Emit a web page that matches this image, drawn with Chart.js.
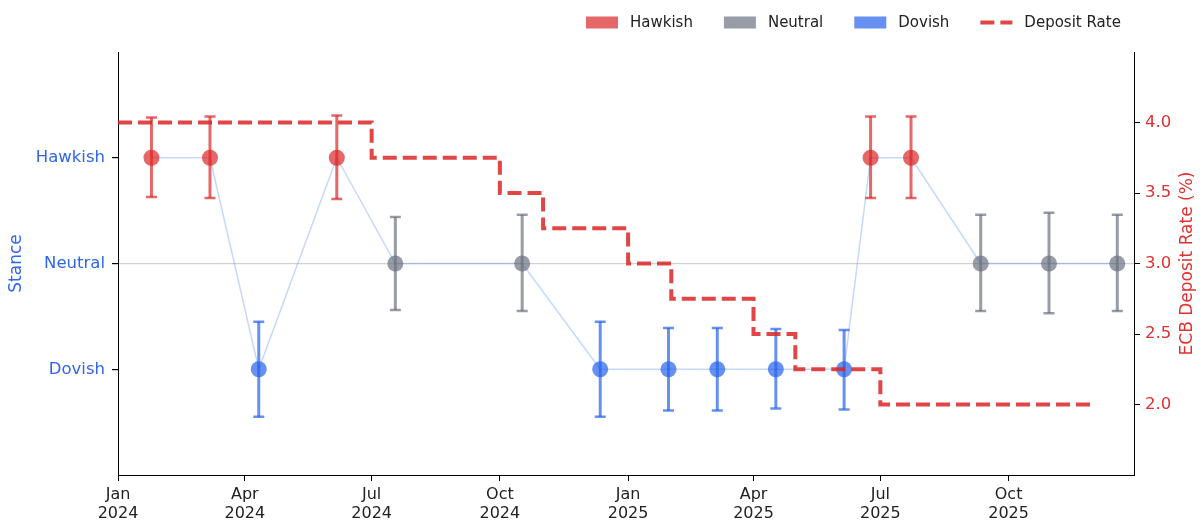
<!DOCTYPE html>
<html>
<head>
<meta charset="utf-8">
<script src="https://cdn.jsdelivr.net/npm/chart.js@4.4.1/dist/chart.umd.min.js"></script>
<style>
  html, body { margin: 0; padding: 0; background: #fff; }
  #wrap { width: 1201px; height: 521px; }
</style>
</head>
<body>
<div id="wrap"><canvas id="chart" width="1201" height="521"></canvas></div>
<script>
// ---------------------------------------------------------------
// ECB stance vs deposit rate
// ---------------------------------------------------------------

// 1. DATA
const meetingDates = ['2024-01-25', '2024-03-07', '2024-04-11', '2024-06-06', '2024-07-18', '2024-10-17',
  '2024-12-12', '2025-01-30', '2025-03-06', '2025-04-17', '2025-06-05', '2025-06-24', '2025-07-23',
  '2025-09-11', '2025-10-30', '2025-12-18'];
const meetingStance = ['Hawkish', 'Hawkish', 'Dovish', 'Hawkish', 'Neutral', 'Neutral',
  'Dovish', 'Dovish', 'Dovish', 'Dovish', 'Dovish', 'Hawkish', 'Hawkish',
  'Neutral', 'Neutral', 'Neutral'];
const errHigh = [1.38, 1.39, -0.55, 1.40, 0.44, 0.46, -0.55, -0.61, -0.61, -0.62, -0.63, 1.39, 1.39, 0.46, 0.48, 0.46];
const errLow  = [0.63, 0.62, -1.45, 0.61, -0.44, -0.45, -1.45, -1.39, -1.39, -1.37, -1.38, 0.62, 0.62, -0.45, -0.47, -0.45];

const rateDates  = ['2024-01-01', '2024-07-01', '2024-10-01', '2024-11-01', '2025-01-01', '2025-02-01',
  '2025-04-01', '2025-05-01', '2025-07-01', '2025-12-01'];
const rateValues = [4.0, 3.75, 3.5, 3.25, 3.0, 2.75, 2.5, 2.25, 2.0, 2.0];

const stanceLevels = ['Dovish', 'Neutral', 'Hawkish'];   // -> -1, 0, 1
const stanceTicks  = [-1, 0, 1];
const rateTicks    = [2.0, 2.5, 3.0, 3.5, 4.0];
const xTickDates   = ['2024-01-01', '2024-04-01', '2024-07-01', '2024-10-01',
  '2025-01-01', '2025-04-01', '2025-07-01', '2025-10-01'];
const xTickMonths  = ['Jan', 'Apr', 'Jul', 'Oct', 'Jan', 'Apr', 'Jul', 'Oct'];
const xTickYears   = ['2024', '2024', '2024', '2024', '2025', '2025', '2025', '2025'];

const legendLabels = ['Hawkish', 'Neutral', 'Dovish', 'Deposit Rate'];

// 2. STYLE
const BLUE_TXT = '#2f66ee';
const RED_TXT  = '#e03030';
const catColor = {
  Hawkish: 'rgba(220, 38, 38, 0.7)',
  Neutral: 'rgba(107, 114, 128, 0.7)',
  Dovish:  'rgba(37, 99, 235, 0.7)'
};
const RATE_COLOR = 'rgba(220, 38, 38, 0.85)';
const RATE_DASH = [14, 6];

Chart.defaults.font.family = "'DejaVu Sans', sans-serif";
Chart.defaults.color = '#222';

const ts = d => Date.parse(d);
const stanceVal = c => stanceLevels.indexOf(c) - 1;

// 3. DATASETS
function categoryDataset(cat, order) {
  const pts = [];
  meetingDates.forEach((d, i) => {
    if (meetingStance[i] === cat) pts.push({ x: ts(d), y: stanceVal(cat), lo: errLow[i], hi: errHigh[i] });
  });
  return {
    type: 'scatter', label: cat, data: pts, yAxisID: 'y', order: order,
    pointRadius: 8, pointHoverRadius: 8, pointBorderWidth: 0,
    backgroundColor: catColor[cat], borderColor: catColor[cat],
    showLine: false, errorBars: true
  };
}

const datasets = [
  {
    type: 'line', label: 'path', yAxisID: 'y', order: 10,
    data: meetingDates.map((d, i) => ({ x: ts(d), y: stanceVal(meetingStance[i]) })),
    borderColor: 'rgba(59, 130, 246, 0.3)', borderWidth: 1.5, pointRadius: 0, tension: 0
  },
  categoryDataset('Hawkish', 5),
  categoryDataset('Neutral', 4),
  categoryDataset('Dovish', 3),
  {
    type: 'line', label: 'Deposit Rate', yAxisID: 'y1', order: 0,
    data: rateDates.map((d, i) => ({ x: ts(d), y: rateValues[i] })),
    borderColor: RATE_COLOR, borderWidth: 4, borderDash: RATE_DASH, borderCapStyle: 'butt',
    stepped: true, pointRadius: 0, fill: false
  }
];

// 4. PLUGINS
const errorBarPlugin = {
  id: 'errorBars',
  beforeDatasetDraw(chart, args) {
    const ds = chart.data.datasets[args.index];
    if (!ds.errorBars) return;
    const { ctx, scales } = chart;
    ctx.save();
    ctx.strokeStyle = ds.borderColor;
    ds.data.forEach(p => {
      const x = scales.x.getPixelForValue(p.x);
      const yTop = scales.y.getPixelForValue(p.hi);
      const yBot = scales.y.getPixelForValue(p.lo);
      ctx.lineWidth = 3;
      ctx.beginPath();
      ctx.moveTo(x, yTop); ctx.lineTo(x, yBot);
      ctx.stroke();
      ctx.lineWidth = 2.5;
      ctx.beginPath();
      ctx.moveTo(x - 5.5, yTop); ctx.lineTo(x + 5.5, yTop);
      ctx.moveTo(x - 5.5, yBot); ctx.lineTo(x + 5.5, yBot);
      ctx.stroke();
    });
    ctx.restore();
  }
};

const decorPlugin = {
  id: 'decor',
  afterDraw(chart) {
    const { ctx, chartArea, scales } = chart;
    ctx.save();
    // right axis title, reading bottom to top
    ctx.fillStyle = RED_TXT;
    ctx.font = "17px 'DejaVu Sans'";
    ctx.textAlign = 'center';
    ctx.textBaseline = 'middle';
    ctx.translate(scales.y1.right - 13, (chartArea.top + chartArea.bottom) / 2);
    ctx.rotate(-Math.PI / 2);
    ctx.fillText('ECB Deposit Rate (%)', 0, 0);
    ctx.restore();

    // legend
    ctx.save();
    ctx.font = "15px 'DejaVu Sans'";
    ctx.textBaseline = 'middle';
    ctx.textAlign = 'left';
    const cy = 22.5;
    let x = 586;
    legendLabels.forEach(lbl => {
      if (catColor[lbl]) {
        ctx.fillStyle = catColor[lbl];
        ctx.fillRect(x, cy - 6, 32, 12);
      } else {
        ctx.strokeStyle = RATE_COLOR;
        ctx.lineWidth = 4;
        ctx.setLineDash(RATE_DASH);
        ctx.beginPath();
        ctx.moveTo(x, cy); ctx.lineTo(x + 32, cy);
        ctx.stroke();
        ctx.setLineDash([]);
      }
      ctx.fillStyle = '#222';
      ctx.fillText(lbl, x + 44, cy + 1);
      x += 44 + ctx.measureText(lbl).width + 31;
    });
    ctx.restore();
  }
};

// 5. CHART
new Chart(document.getElementById('chart'), {
  data: { datasets: datasets },
  options: {
    responsive: false,
    animation: false,
    layout: { padding: { top: 52, left: 0, right: 0, bottom: 0 } },
    plugins: { legend: { display: false }, tooltip: { enabled: false } },
    scales: {
      x: {
        type: 'linear',
        min: ts('2024-01-01'), max: ts('2025-12-30'),
        afterBuildTicks: s => { s.ticks = xTickDates.map(d => ({ value: ts(d) })); },
        afterFit: s => { s.height = 46; },
        grid: { drawOnChartArea: false, tickLength: 6, tickColor: '#000' },
        border: { display: true, color: '#000', width: 1 },
        ticks: {
          autoSkip: false, maxRotation: 0, padding: 4, color: '#222',
          font: { size: 16 },
          callback: (v, i) => [xTickMonths[i], xTickYears[i]]
        }
      },
      y: {
        position: 'left', min: -2, max: 2,
        afterBuildTicks: s => { s.ticks = stanceTicks.map(v => ({ value: v })); },
        afterFit: s => { s.width = 118; },
        grid: {
          color: c => (c.tick && c.tick.value === 0 ? 'rgba(0, 0, 0, 0.18)' : 'rgba(0,0,0,0)'),
          lineWidth: 1.2, tickLength: 6, tickColor: '#000'
        },
        border: { display: true, color: '#000', width: 1 },
        ticks: {
          padding: 7, color: BLUE_TXT, font: { size: 16.5 },
          callback: v => stanceLevels[v + 1]
        },
        title: { display: true, text: 'Stance', color: BLUE_TXT, font: { size: 17 }, padding: { top: 6, bottom: 0 } }
      },
      y1: {
        position: 'right', min: 1.5, max: 4.5,
        afterBuildTicks: s => { s.ticks = rateTicks.map(v => ({ value: v })); },
        afterFit: s => { s.width = 67; },
        grid: { drawOnChartArea: false, tickLength: 6, tickColor: '#000' },
        border: { display: true, color: '#000', width: 1 },
        ticks: {
          padding: 5, color: RED_TXT, font: { size: 16.5 },
          callback: v => v.toFixed(1)
        }
      }
    }
  },
  plugins: [errorBarPlugin, decorPlugin]
});
</script>
</body>
</html>
